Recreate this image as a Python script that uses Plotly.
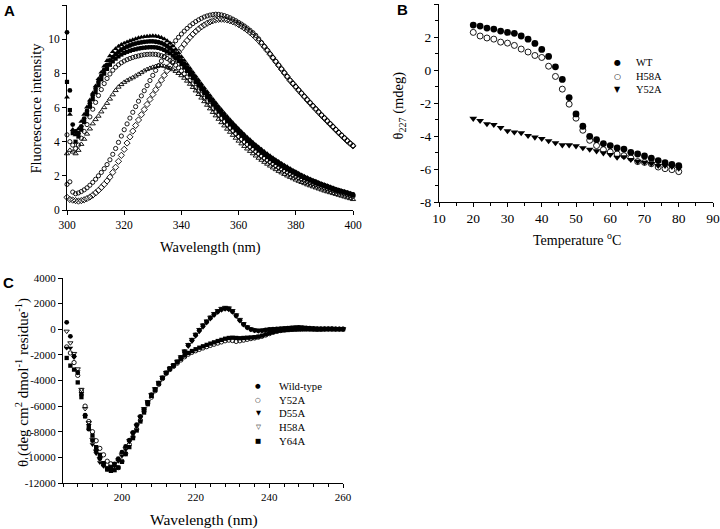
import plotly.graph_objects as go

# ---------------- Panel A: fluorescence spectra ----------------
wl_A = list(range(300, 401))

fluo_T1 = [6.6, 5.6, 4.7, 4.4, 4.75, 5.18, 5.6, 6.02, 6.43, 6.84,
           7.26, 7.68, 8.06, 8.42, 8.74, 9.02, 9.26, 9.44, 9.58, 9.68,
           9.76, 9.83, 9.9, 9.96, 10.02, 10.07, 10.11, 10.14, 10.16, 10.18,
           10.19, 10.18, 10.15, 10.09, 10.01, 9.9, 9.77, 9.6, 9.4, 9.19,
           8.97, 8.75, 8.52, 8.29, 8.06, 7.83, 7.6, 7.37, 7.14, 6.92,
           6.7, 6.48, 6.27, 6.06, 5.86, 5.66, 5.47, 5.28, 5.1, 4.92,
           4.75, 4.58, 4.42, 4.26, 4.11, 3.96, 3.82, 3.68, 3.55, 3.42,
           3.29, 3.17, 3.05, 2.94, 2.83, 2.72, 2.62, 2.52, 2.42, 2.32,
           2.23, 2.14, 2.05, 1.97, 1.89, 1.81, 1.74, 1.67, 1.6, 1.53,
           1.47, 1.41, 1.35, 1.29, 1.23, 1.17, 1.12, 1.07, 1.02, 0.97,
           0.92]
fluo_T2 = [10.4, 7.0, 5.0, 4.6, 4.5, 4.9, 5.35, 5.8, 6.25, 6.7,
           7.1, 7.5, 7.85, 8.2, 8.5, 8.75, 8.95, 9.12, 9.26, 9.38,
           9.48, 9.56, 9.63, 9.69, 9.74, 9.78, 9.81, 9.84, 9.86, 9.87,
           9.87, 9.85, 9.82, 9.77, 9.69, 9.59, 9.47, 9.32, 9.15, 8.96,
           8.76, 8.55, 8.33, 8.11, 7.89, 7.66, 7.43, 7.2, 6.98, 6.76,
           6.54, 6.33, 6.12, 5.91, 5.71, 5.52, 5.33, 5.14, 4.96, 4.79,
           4.62, 4.46, 4.3, 4.15, 4.0, 3.86, 3.72, 3.58, 3.45, 3.32,
           3.2, 3.08, 2.97, 2.86, 2.75, 2.65, 2.55, 2.45, 2.36, 2.27,
           2.18, 2.09, 2.01, 1.93, 1.85, 1.78, 1.71, 1.64, 1.57, 1.51,
           1.45, 1.39, 1.33, 1.27, 1.21, 1.16, 1.11, 1.06, 1.01, 0.96,
           0.91]
fluo_T3 = [7.5, 5.85, 4.5, 4.0, 4.3, 4.7, 5.15, 5.6, 6.05, 6.5,
           6.9, 7.3, 7.65, 7.98, 8.26, 8.5, 8.7, 8.86, 8.99, 9.1,
           9.19, 9.26, 9.32, 9.37, 9.41, 9.45, 9.48, 9.5, 9.52, 9.53,
           9.53, 9.52, 9.49, 9.44, 9.37, 9.28, 9.17, 9.04, 8.89, 8.72,
           8.54, 8.34, 8.14, 7.93, 7.72, 7.5, 7.28, 7.06, 6.84, 6.62,
           6.41, 6.2, 5.99, 5.79, 5.59, 5.4, 5.21, 5.03, 4.85, 4.68,
           4.51, 4.35, 4.19, 4.04, 3.89, 3.75, 3.61, 3.48, 3.35, 3.22,
           3.1, 2.98, 2.87, 2.76, 2.66, 2.56, 2.46, 2.37, 2.28, 2.19,
           2.1, 2.02, 1.94, 1.86, 1.79, 1.72, 1.65, 1.58, 1.52, 1.46,
           1.4, 1.34, 1.28, 1.23, 1.17, 1.12, 1.07, 1.02, 0.97, 0.92,
           0.87]
fluo_T4 = [4.4, 4.0, 3.8, 3.6, 3.8, 4.2, 4.6, 5.0, 5.45, 5.9,
           6.3, 6.7, 7.05, 7.4, 7.7, 7.96, 8.18, 8.36, 8.5, 8.62,
           8.72, 8.8, 8.87, 8.93, 8.98, 9.02, 9.06, 9.09, 9.11, 9.12,
           9.12, 9.11, 9.08, 9.03, 8.96, 8.87, 8.76, 8.63, 8.48, 8.32,
           8.15, 7.97, 7.78, 7.58, 7.38, 7.17, 6.96, 6.75, 6.54, 6.33,
           6.13, 5.93, 5.73, 5.54, 5.35, 5.16, 4.98, 4.8, 4.63, 4.46,
           4.3, 4.14, 3.99, 3.84, 3.7, 3.56, 3.43, 3.3, 3.17, 3.05,
           2.93, 2.82, 2.71, 2.6, 2.5, 2.4, 2.31, 2.22, 2.13, 2.05,
           1.97, 1.89, 1.81, 1.74, 1.67, 1.6, 1.54, 1.48, 1.42, 1.36,
           1.3, 1.25, 1.2, 1.15, 1.1, 1.05, 1.0, 0.95, 0.9, 0.85,
           0.8]
fluo_T5 = [3.3, 3.5, 3.4, 3.3, 3.5, 3.85, 4.15, 4.45, 4.75, 5.05,
           5.3, 5.5, 5.75, 6.0, 6.25, 6.5, 6.75, 7.0, 7.2, 7.35,
           7.48, 7.58, 7.67, 7.75, 7.85, 7.95, 8.05, 8.15, 8.23, 8.3,
           8.36, 8.41, 8.45, 8.46, 8.42, 8.37, 8.3, 8.22, 8.12, 8.0,
           7.87, 7.72, 7.55, 7.37, 7.18, 6.98, 6.77, 6.56, 6.35, 6.14,
           5.93, 5.72, 5.52, 5.32, 5.12, 4.93, 4.74, 4.56, 4.38, 4.21,
           4.04, 3.88, 3.73, 3.58, 3.44, 3.3, 3.17, 3.04, 2.92, 2.8,
           2.69, 2.58, 2.47, 2.37, 2.27, 2.18, 2.09, 2.0, 1.92, 1.84,
           1.76, 1.69, 1.62, 1.55, 1.48, 1.42, 1.36, 1.3, 1.24, 1.18,
           1.12, 1.07, 1.02, 0.97, 0.92, 0.87, 0.82, 0.77, 0.72, 0.67,
           0.62]
fluo_R1 = [1.5, 1.65, 1.05, 0.95, 1.0, 1.08, 1.18, 1.3, 1.45, 1.62,
           1.8, 2.0, 2.2, 2.42, 2.66, 2.94, 3.26, 3.6, 3.96, 4.33,
           4.7, 5.04, 5.38, 5.72, 6.05, 6.37, 6.68, 6.98, 7.28, 7.58,
           7.88, 8.17, 8.45, 8.72, 8.98, 9.23, 9.47, 9.7, 9.91, 10.11,
           10.3, 10.47, 10.63, 10.78, 10.91, 11.03, 11.13, 11.22, 11.3, 11.36,
           11.41, 11.44, 11.46, 11.45, 11.42, 11.38, 11.32, 11.25, 11.17, 11.08,
           10.98, 10.88, 10.77, 10.65, 10.52, 10.38, 10.22, 10.02, 9.8, 9.58,
           9.36, 9.14, 8.92, 8.7, 8.48, 8.26, 8.04, 7.82, 7.6, 7.41,
           7.22, 7.03, 6.84, 6.65, 6.46, 6.28, 6.1, 5.92, 5.74, 5.56,
           5.39, 5.22, 5.05, 4.88, 4.71, 4.54, 4.38, 4.22, 4.06, 3.91,
           3.77]
fluo_R2 = [0.74, 0.62, 0.58, 0.55, 0.52, 0.55, 0.6, 0.67, 0.76, 0.87,
           1.0, 1.15, 1.32, 1.5, 1.7, 1.92, 2.2, 2.5, 2.85, 3.2,
           3.55, 3.92, 4.28, 4.62, 4.95, 5.27, 5.58, 5.88, 6.18, 6.47,
           6.76, 7.04, 7.32, 7.6, 7.88, 8.16, 8.44, 8.72, 8.98, 9.24,
           9.48, 9.71, 9.92, 10.11, 10.29, 10.45, 10.59, 10.72, 10.83, 10.93,
           11.01, 11.08, 11.13, 11.16, 11.17, 11.16, 11.13, 11.08, 11.02, 10.95,
           10.86, 10.76, 10.65, 10.53, 10.4, 10.26, 10.1, 9.93, 9.74, 9.55,
           9.34, 9.12, 8.9, 8.68, 8.46, 8.24, 8.02, 7.8, 7.58, 7.39,
           7.2, 7.01, 6.82, 6.63, 6.44, 6.26, 6.08, 5.9, 5.72, 5.54,
           5.37, 5.2, 5.03, 4.86, 4.69, 4.52, 4.36, 4.2, 4.04, 3.89,
           3.75]

A_xticks = [300, 320, 340, 360, 380, 400]
A_yticks = [0, 2, 4, 6, 8, 10, 12]

# ---------------- Panel B: thermal melts ----------------
temp_B = [20, 22, 24, 26, 28, 30, 32, 34, 36, 38, 40, 42, 44, 46, 48, 50,
          52, 54, 56, 58, 60, 62, 64, 66, 68, 70, 72, 74, 76, 78, 80]
melt_WT = [2.72, 2.66, 2.54, 2.48, 2.36, 2.28, 2.22, 2.06, 1.87, 1.61, 1.25,
           0.82, 0.19, -0.57, -1.67, -2.66, -3.41, -4.02, -4.22, -4.46, -4.58,
           -4.72, -4.79, -4.99, -5.09, -5.21, -5.35, -5.49, -5.62, -5.72, -5.80]
melt_H58A = [2.28, 2.06, 1.94, 1.87, 1.69, 1.63, 1.49, 1.27, 1.09, 0.88, 0.76,
             0.23, -0.39, -1.16, -2.07, -2.92, -3.65, -4.26, -4.58, -4.83, -4.97,
             -5.09, -5.19, -5.33, -5.55, -5.60, -5.68, -5.88, -5.98, -6.04, -6.16]
melt_Y52A = [-2.94, -3.07, -3.27, -3.31, -3.49, -3.69, -3.77, -3.81, -3.98, -4.08,
             -4.16, -4.30, -4.42, -4.55, -4.55, -4.61, -4.72, -4.81, -4.91, -5.03,
             -5.13, -5.30, -5.27, -5.43, -5.55, -5.60, -5.68, -5.80, -5.80, -5.86, -5.96]
B_xticks = [10, 20, 30, 40, 50, 60, 70, 80, 90]
B_yticks = [4, 2, 0, -2, -4, -6, -8]
B_yticktext = ["4", "2", "0", "-2", "-4", "-6", "-8"]
B_names = ["WT", "H58A", "Y52A"]
B_symbols = ["●", "○", "▼"]

# ---------------- Panel C: far-UV CD ----------------
wl_C = list(range(185, 261))
cd_WT = [540, -550, -2100, -3400, -5100, -6700, -7800, -8700, -9500, -10100,
         -10600, -10900, -10800, -10500, -10100, -9600, -9150, -8650, -8050, -7450,
         -6800, -6250, -5700, -5100, -4700, -4200, -3800, -3400, -3100, -2850,
         -2550, -2200, -1750, -1250, -850, -450, -80, 280, 580, 880,
         1150, 1380, 1550, 1620, 1580, 1380, 1060, 700, 380, 140,
         -10, -90, -120, -100, -50, -20, 0, 20, 40, 60,
         80, 110, 130, 140, 130, 100, 80, 60, 50, 40,
         40, 40, 40, 30, 30, 30]
cd_Y52A = [-1380, -1850, -2600, -3600, -4800, -6000, -7200, -8000, -8700, -9300,
           -9800, -10300, -10500, -10800, -10800, -10300, -9700, -9000, -8400, -7800,
           -7100, -6400, -5800, -5300, -4800, -4300, -3850, -3450, -3150, -2900,
           -2650, -2400, -2150, -1950, -1800, -1680, -1570, -1460, -1360, -1260,
           -1170, -1080, -990, -900, -850, -880, -950, -900, -850, -790,
           -730, -680, -620, -550, -450, -340, -240, -160, -100, -50,
           -10, 20, 40, 50, 40, 30, 20, 10, 0, 0,
           10, 10, 20, 10, 0, 0]
cd_D55A = [-1460, -1460, -2200, -3300, -5000, -6800, -7500, -9000, -9700, -10400,
           -10700, -10900, -10900, -10700, -10300, -9900, -9400, -8800, -8200, -7600,
           -6900, -6300, -5700, -5150, -4650, -4200, -3780, -3400, -3080, -2820,
           -2600, -2300, -1850, -1350, -950, -550, -200, 150, 480, 800,
           1080, 1300, 1480, 1560, 1520, 1330, 1000, 650, 330, 100,
           -40, -120, -150, -120, -70, -30, -10, 10, 30, 40,
           60, 80, 100, 110, 100, 80, 60, 50, 40, 30,
           30, 30, 20, 20, 20, 20]
cd_H58A = [-160, -1070, -1900, -3100, -4700, -6200, -7300, -8600, -9500, -10100,
           -10500, -10800, -10700, -10500, -10200, -9800, -9300, -8700, -8100, -7500,
           -6850, -6200, -5650, -5100, -4650, -4150, -3750, -3380, -3050, -2800,
           -2500, -2150, -1700, -1200, -800, -400, -30, 330, 640, 940,
           1220, 1450, 1620, 1700, 1660, 1450, 1120, 760, 430, 180,
           20, -60, -90, -80, -40, 0, 20, 40, 60, 80,
           110, 140, 160, 170, 150, 120, 90, 70, 60, 50,
           50, 50, 50, 40, 40, 40]
cd_Y64A = [-2240, -2840, -3150, -4150, -5300, -6800, -7600, -8300, -9200, -9800,
           -10450, -10950, -11050, -11000, -10800, -10350, -9750, -9200, -8500, -7900,
           -7200, -6500, -5850, -5200, -4750, -4250, -3800, -3400, -3050, -2800,
           -2550, -2300, -2050, -1850, -1700, -1560, -1440, -1330, -1220, -1120,
           -1020, -920, -830, -740, -680, -660, -680, -700, -680, -660,
           -640, -620, -580, -500, -400, -300, -220, -160, -110, -80,
           -60, -40, -30, -20, -10, 0, 0, -10, -20, -10,
           0, 10, 0, 0, 10, 0]
C_xticks = [200, 220, 240, 260]
C_yticks = [4000, 2000, 0, -2000, -4000, -6000, -8000, -10000, -12000]
C_yticktext = ["4000", "2000", "0", "-2000", "-4000", "-6000", "-8000", "-10000", "-12000"]
C_names = ["Wild-type", "Y52A", "D55A", "H58A", "Y64A"]
C_symbols = ["●", "○", "▼", "▽", "■"]

W, H = 720, 529
SERIF = "Liberation Serif, Times New Roman, serif"

fig = go.Figure()


def add(x, y, name, symbol, size, xa, ya, open_=False):
    fig.add_trace(go.Scatter(
        x=x, y=y, mode="markers", name=name, showlegend=False,
        xaxis=xa, yaxis=ya, cliponaxis=False, hoverinfo="skip",
        marker=dict(symbol=symbol, size=size, color="black",
                    line=dict(width=0.9 if open_ else 0, color="black"))))


# Panel A traces
add(wl_A, fluo_R2, "red-shifted 2", "diamond-open", 4.8, "x", "y", True)
add(wl_A, fluo_R1, "red-shifted 1", "circle-open", 4.2, "x", "y", True)
add(wl_A, fluo_T5, "spectrum 5", "triangle-up-open", 4.6, "x", "y", True)
add(wl_A, fluo_T4, "spectrum 4", "circle-open", 4.2, "x", "y", True)
add(wl_A, fluo_T3, "spectrum 3", "square", 4.2, "x", "y")
add(wl_A, fluo_T2, "spectrum 2", "circle", 4.8, "x", "y")
add(wl_A, fluo_T1, "spectrum 1", "triangle-up", 5.2, "x", "y")

# Panel B traces
add(temp_B, melt_WT, "WT", "circle", 6.8, "x2", "y2")
add(temp_B, melt_H58A, "H58A", "circle-open", 6, "x2", "y2", True)
add(temp_B, melt_Y52A, "Y52A", "triangle-down", 6.8, "x2", "y2")

# Panel C traces
add(wl_C, cd_Y52A, "Y52A", "circle-open", 4.3, "x3", "y3", True)
add(wl_C, cd_H58A, "H58A", "triangle-down-open", 4.6, "x3", "y3", True)
add(wl_C, cd_D55A, "D55A", "triangle-down", 5, "x3", "y3")
add(wl_C, cd_Y64A, "Y64A", "square", 4.3, "x3", "y3")
add(wl_C, cd_WT, "Wild-type", "circle", 4.8, "x3", "y3")


def axis(domain, rng, tickvals, ticktext=None, size=11.5, anchor=None, minor=None):
    d = dict(domain=domain, range=rng, tickmode="array", tickvals=tickvals,
             showline=True, linecolor="black", linewidth=1, mirror=False,
             ticks="outside", ticklen=4, tickwidth=1, tickcolor="black",
             showgrid=False, zeroline=False, anchor=anchor, automargin=False,
             fixedrange=True,
             tickfont=dict(family=SERIF, size=size, color="black"))
    if ticktext is not None:
        d["ticktext"] = ticktext
    if minor is not None:
        d["minor"] = minor
    return d


def px_x(p):
    return p / W


def px_y(p):
    return 1 - p / H


fig.update_layout(
    template="none",
    width=W, height=H, margin=dict(l=0, r=0, t=0, b=0, pad=0, autoexpand=False),
    paper_bgcolor="white", plot_bgcolor="white",
    font=dict(family=SERIF, color="black"),
    hovermode=False,
    xaxis=axis([px_x(67), px_x(353)], [300, 400], A_xticks, anchor="y"),
    yaxis=axis([px_y(210), px_y(5)], [0, 12], A_yticks, anchor="x"),
    xaxis2=axis([px_x(439), px_x(713)], [10, 90], B_xticks, size=13.5, anchor="y2",
                minor=dict(dtick=5, tick0=0, ticks="outside", ticklen=3, tickcolor="black")),
    yaxis2=axis([px_y(202), px_y(4)], [-8, 4], B_yticks, B_yticktext, size=13.5, anchor="x2",
                minor=dict(dtick=1, tick0=0, ticks="outside", ticklen=3, tickcolor="black")),
    xaxis3=axis([px_x(63), px_x(343)], [184, 260], C_xticks, size=11, anchor="y3",
                minor=dict(dtick=4, tick0=0, ticks="outside", ticklen=3, tickcolor="black")),
    yaxis3=axis([px_y(483), px_y(278)], [-12000, 4000], C_yticks, C_yticktext, size=11, anchor="x3"),
)

ann = []


def note(text, x, y, size, family=SERIF, angle=0, xanchor="center", weight="normal"):
    ann.append(dict(text=text, x=px_x(x), y=px_y(y), xref="paper", yref="paper",
                    showarrow=False, xanchor=xanchor, yanchor="middle",
                    textangle=angle, borderpad=0,
                    font=dict(family=family, size=size, color="black", weight=weight)))


# axis titles
note("Wavelength (nm)", 210, 247, 14.5)
note("Fluorescence intensity", 35.5, 108, 14.5, angle=-90)
note("Temperature <sup>o</sup>C", 577, 238.5, 14)
note("θ<sub>227</sub> (mdeg)", 398.5, 106, 14.5, angle=-90)
note("Wavelength (nm)", 204, 520, 15.5)
note("θ (deg cm<sup>2</sup> dmol<sup>-1</sup> residue<sup>-1</sup>)", 22, 383, 15, angle=-90)

# panel letters
note("A", 9.5, 10.5, 15, family="Liberation Sans, Arial, sans-serif", weight="bold")
note("B", 402.5, 9.5, 15, family="Liberation Sans, Arial, sans-serif", weight="bold")
note("C", 8, 282, 15, family="Liberation Sans, Arial, sans-serif", weight="bold")

# legend rows (B)
B_rows = [62.7, 76.4, 90.0]
for sym, name, yy in zip(B_symbols, B_names, B_rows):
    note(sym, 617, yy, 8, family="DejaVu Sans")
    note(name, 635, yy, 10.5, xanchor="left")

# legend rows (C)
C_rows = [386.0, 399.6, 413.3, 427.0, 441.0]
for sym, name, yy in zip(C_symbols, C_names, C_rows):
    note(sym, 258.3, yy, 6.5, family="DejaVu Sans")
    note(name, 278.3, yy, 10.7, xanchor="left")

fig.update_layout(annotations=ann)
fig.write_html(
    "out.html",
    config={"displayModeBar": False, "staticPlot": True},
    post_script="document.body.style.margin='0px';document.body.style.padding='0px';"
                "document.body.style.overflow='hidden';",
)
